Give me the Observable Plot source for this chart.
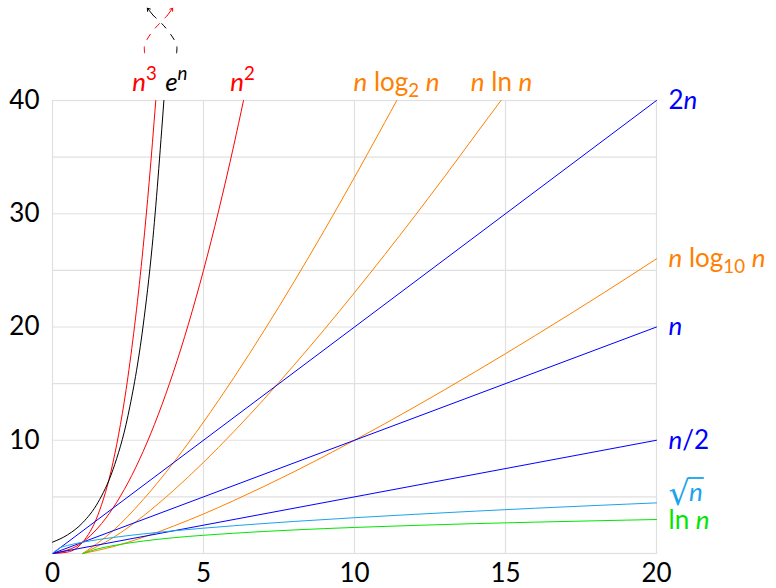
<!DOCTYPE html>
<html>
<head>
<meta charset="utf-8">
<script src="https://cdn.jsdelivr.net/npm/d3@7"></script>
<script src="https://cdn.jsdelivr.net/npm/@observablehq/plot@0.6"></script>
<style>
  html, body { margin: 0; padding: 0; background: white; }
  svg { display: block; }
</style>
</head>
<body>
<div id="chart"></div>
<script>
// ---- data ----
const cubeX = [0, 0.5, 1, 1.5, 2, 2.5, 3, 3.2, 3.42];
const cubeY = [0, 0.125, 1, 3.375, 8, 15.63, 27, 32.77, 40];
const expX = [0, 0.5, 1, 1.5, 2, 2.5, 3, 3.3, 3.689];
const expY = [1, 1.65, 2.72, 4.48, 7.39, 12.18, 20.09, 27.11, 40];
const sqX = [0, 1, 2, 3, 4, 5, 6, 6.325];
const sqY = [0, 1, 4, 9, 16, 25, 36, 40];
const nlog2X = [1, 2, 3, 4, 5, 6, 7, 8, 9, 10, 11, 11.4];
const nlog2Y = [0, 2, 4.75, 8, 11.61, 15.51, 19.65, 24, 28.53, 33.22, 38.05, 40];
const nlnX = [1, 2, 3, 4, 5, 6, 7, 8, 9, 10, 11, 12, 13, 14, 14.85];
const nlnY = [0, 1.39, 3.30, 5.55, 8.05, 10.75, 13.62, 16.64, 19.78, 23.03, 26.38, 29.82, 33.34, 36.95, 40];
const twoNX = [0, 20];
const twoNY = [0, 40];
const nlog10X = [1, 2, 3, 4, 5, 6, 8, 10, 12, 14, 16, 18, 20];
const nlog10Y = [0, 0.60, 1.43, 2.41, 3.49, 4.67, 7.22, 10, 12.95, 16.05, 19.27, 22.59, 26.02];
const nX = [0, 20];
const nY = [0, 20];
const halfX = [0, 20];
const halfY = [0, 10];
const sqrtX = [0, 0.25, 0.5, 1, 2, 3, 4, 6, 8, 10, 12, 14, 16, 18, 20];
const sqrtY = [0, 0.5, 0.71, 1, 1.41, 1.73, 2, 2.45, 2.83, 3.16, 3.46, 3.74, 4, 4.24, 4.47];
const lnX = [1, 1.5, 2, 3, 4, 5, 6, 8, 10, 12, 14, 16, 18, 20];
const lnY = [0, 0.41, 0.69, 1.10, 1.39, 1.61, 1.79, 2.08, 2.30, 2.48, 2.64, 2.77, 2.89, 3.00];

const xTicks = [0, 5, 10, 15, 20];
const yTicks = [10, 20, 30, 40];
const xGrid = [5, 10, 15];
const yGrid = [5, 10, 15, 20, 25, 30, 35];

// labels (markup: *x* italic, ^(..) superscript, _(..) subscript, # sqrt n)
const topLabels = ["*n*^(3)", "*e*^(n)", "*n*^(2)", "*n* log_(2) *n*", "*n* ln *n*"];
const topLabelX = [3.05, 4.1, 6.29, 11.39, 14.87];
const topLabelColor = ["#ff0000", "#000000", "#ff0000", "#ff8000", "#ff8000"];
const rightLabels = ["2*n*", "*n* log_(10) *n*", "*n*", "*n*/2", "#", "ln *n*"];
const rightLabelY = [40, 26.02, 20, 10, 5.4, 2.9];
const rightLabelColor = ["#0000ff", "#ff8000", "#0000ff", "#0000ff", "#1aa3ee", "#00e600"];

// crossing arrows above the frame (dashed arcs + solid heads)
const arcRedX = [3.05, 3.05, 3.28, 3.58, 3.80];
const arcRedY = [44.2, 44.9, 46.0, 46.9, 47.5];
const arcBlackX = [4.11, 4.11, 3.87, 3.58, 3.34];
const arcBlackY = [44.2, 44.9, 46.0, 46.9, 47.5];
const headRed = {x1: 3.80, y1: 47.5, x2: 3.98, y2: 48.15};
const headBlack = {x1: 3.34, y1: 47.5, x2: 3.14, y2: 48.15};

// ---- build series ----
const series = [
  {name: "n3", color: "#ff0000", xs: cubeX, ys: cubeY},
  {name: "en", color: "#000000", xs: expX, ys: expY},
  {name: "n2", color: "#ff0000", xs: sqX, ys: sqY},
  {name: "nlog2", color: "#ff8000", xs: nlog2X, ys: nlog2Y},
  {name: "nln", color: "#ff8000", xs: nlnX, ys: nlnY},
  {name: "2n", color: "#0000ff", xs: twoNX, ys: twoNY},
  {name: "nlog10", color: "#ff8000", xs: nlog10X, ys: nlog10Y},
  {name: "n", color: "#0000ff", xs: nX, ys: nY},
  {name: "half", color: "#0000ff", xs: halfX, ys: halfY},
  {name: "sqrt", color: "#1aa3ee", xs: sqrtX, ys: sqrtY},
  {name: "ln", color: "#00e600", xs: lnX, ys: lnY}
];
const rows = series.flatMap(s => s.xs.map((x, i) => ({name: s.name, color: s.color, x, y: s.ys[i]})));
const topRows = topLabels.map((t, i) => ({t, x: topLabelX[i], color: topLabelColor[i]}));
const rightRows = rightLabels.map((t, i) => ({t, y: rightLabelY[i], color: rightLabelColor[i]}));
const arcRed = arcRedX.map((x, i) => ({x, y: arcRedY[i]}));
const arcBlack = arcBlackX.map((x, i) => ({x, y: arcBlackY[i]}));

const FS = 26;
const RAD = 1.3;
const gridColor = "#e0e0e0";

const chart = Plot.plot({
  width: 776,
  height: 588,
  marginLeft: 52,
  marginRight: 120,
  marginTop: 100,
  marginBottom: 35,
  x: {domain: [0, 20]},
  y: {domain: [0, 40]},
  style: {fontFamily: "Lato, 'Open Sans', sans-serif", fontSize: FS + "px", background: "white", color: "black", overflow: "visible"},
  marks: [
    Plot.gridX(xGrid, {stroke: gridColor, strokeOpacity: 1, strokeWidth: 1.2}),
    Plot.gridY(yGrid, {stroke: gridColor, strokeOpacity: 1, strokeWidth: 1.2}),
    Plot.frame({stroke: gridColor, strokeWidth: 1.2}),
    Plot.axisX({ticks: xTicks, tickSize: 0, tickPadding: 10, fontSize: FS, label: null}),
    Plot.axisY({ticks: yTicks, tickSize: 0, tickPadding: 13, fontSize: FS, label: null}),
    Plot.line(rows, {x: "x", y: "y", z: "name", stroke: "color", strokeWidth: 1, curve: "monotone-x"}),
    Plot.line(arcRed, {x: "x", y: "y", stroke: "#ff0000", strokeWidth: 1, strokeDasharray: "6,8", curve: "catmull-rom", clip: false}),
    Plot.line(arcBlack, {x: "x", y: "y", stroke: "#000000", strokeWidth: 1, strokeDasharray: "6,8", curve: "catmull-rom", clip: false}),
    Plot.arrow([headRed], {x1: "x1", y1: "y1", x2: "x2", y2: "y2", stroke: "#ff0000", strokeWidth: 1, headLength: 9, headAngle: 70, bend: false}),
    Plot.arrow([headBlack], {x1: "x1", y1: "y1", x2: "x2", y2: "y2", stroke: "#000000", strokeWidth: 1, headLength: 9, headAngle: 70, bend: false}),
    Plot.text(topRows, {x: "x", y: () => 40, text: "t", fill: "color", lineAnchor: "bottom", dy: -10, fontSize: FS}),
    Plot.text(rightRows, {x: () => 20, y: "y", text: "t", fill: "color", textAnchor: "start", dx: 12, fontSize: FS})
  ]
});

// ---- rich text post-processing ----
const keys = new Set([...topLabels, ...rightLabels]);
const NS = "http://www.w3.org/2000/svg";
const radicals = [];
function renderRich(el, str) {
  el.textContent = "";
  const re = /\*([^*]+)\*|\^\(([^)]+)\)|_\(([^)]+)\)|(#)|([^*^_#]+)/g;
  let m, cur = 0;
  const add = (txt, opts) => {
    const ts = document.createElementNS(NS, "tspan");
    ts.textContent = txt;
    const target = opts.shift || 0;
    if (target !== cur) { ts.setAttribute("dy", target - cur); cur = target; }
    if (opts.italic) ts.setAttribute("font-style", "italic");
    if (opts.size) ts.setAttribute("font-size", opts.size);
    if (opts.family) ts.setAttribute("font-family", opts.family);
    if (opts.dx) ts.setAttribute("dx", opts.dx);
    el.appendChild(ts);
  };
  while ((m = re.exec(str))) {
    if (m[1]) add(m[1], {italic: true});
    else if (m[2]) add(m[2], {italic: /[a-z]/.test(m[2]), size: FS * 0.72, shift: -FS * 0.42});
    else if (m[3]) add(m[3], {size: FS * 0.72, shift: FS * 0.24});
    else if (m[4]) {
      add("\u221A", {size: FS * RAD, family: "DejaVu Sans", shift: 4});
      add("n", {italic: true, shift: 0, dx: -1});
      radicals.push(el);
    }
    else if (m[5]) add(m[5], {});
  }
}
chart.querySelectorAll("text").forEach(el => {
  const s = el.textContent;
  if (keys.has(s)) renderRich(el, s);
});

document.getElementById("chart").appendChild(chart);

// overbar of the radical, measured from the rendered glyphs
radicals.forEach(el => {
  const r = el.getExtentOfChar(0);
  const n = el.getExtentOfChar(1);
  const size = FS * RAD;
  const baseline = r.y + 0.928 * size;
  const top = baseline - 0.80 * size;
  const line = document.createElementNS(NS, "line");
  line.setAttribute("x1", r.x + r.width - 1.5);
  line.setAttribute("x2", n.x + n.width + 1);
  line.setAttribute("y1", top);
  line.setAttribute("y2", top);
  line.setAttribute("stroke", el.getAttribute("fill") || (el.closest("[fill]") && el.closest("[fill]").getAttribute("fill")) || "#1aa3ee");
  line.setAttribute("stroke-width", 1.8);
  const ctm = el.getCTM();
  const g = document.createElementNS(NS, "g");
  g.setAttribute("transform", `matrix(${ctm.a},${ctm.b},${ctm.c},${ctm.d},${ctm.e},${ctm.f})`);
  g.appendChild(line);
  chart.appendChild(g);
});
</script>
</body>
</html>
